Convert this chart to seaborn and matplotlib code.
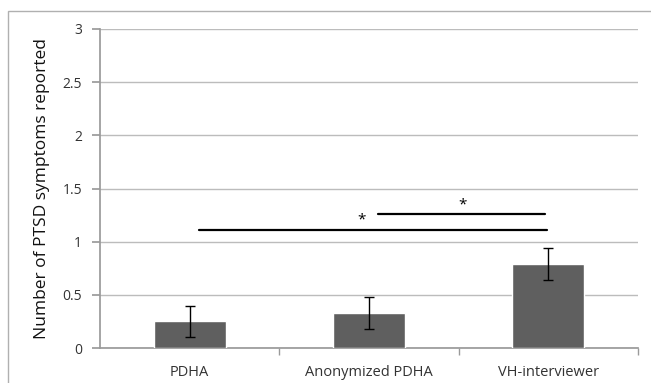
import matplotlib
matplotlib.use("Agg")
import matplotlib.pyplot as plt
import seaborn as sns
import pandas as pd
import numpy as np
from matplotlib.patches import Rectangle

categories = ["PDHA", "Anonymized PDHA", "VH-interviewer"]
means = [0.25, 0.33, 0.79]
errors = [0.145, 0.15, 0.155]
yticks = [0, 0.5, 1, 1.5, 2, 2.5, 3]
ytick_labels = ["0", "0.5", "1", "1.5", "2", "2.5", "3"]
ylabel = "Number of PTSD symptoms reported"

sns.set_theme(style="white")
plt.rcParams['font.family'] = ['Open Sans', 'DejaVu Sans']

fig = plt.figure(figsize=(6.51, 3.83), dpi=100)
fig.patches.append(Rectangle((8/651, -0.05), 1.2, 1 - 11/383 + 0.05, transform=fig.transFigure,
                             fill=False, edgecolor="#b0b0b0", linewidth=1.0))
ax = fig.add_axes([100/651, 1 - 348/383, 538/651, 319/383])

df = pd.DataFrame({"cat": categories, "val": means})
sns.barplot(data=df, x="cat", y="val", color="#5f5f5f", width=0.4, errorbar=None,
            saturation=1, ax=ax, zorder=3)
ax.errorbar(x=np.arange(len(categories)), y=means, yerr=errors, fmt="none",
            ecolor="black", elinewidth=1.0, capsize=3.5, capthick=1.0, zorder=4)

ax.set_ylim(0, 3)
ax.set_xlim(-0.5, 2.5)
ax.set_yticks(yticks)
ax.set_yticklabels(ytick_labels)
ax.yaxis.grid(True, color="#bcbcbc", linewidth=1.0)
ax.set_axisbelow(True)
for s in ["top", "right"]:
    ax.spines[s].set_visible(False)
ax.spines["left"].set_color("#9a9a9a")
ax.spines["bottom"].set_color("#9a9a9a")
ax.tick_params(axis="y", which="major", length=6, color="#9a9a9a", labelsize=10,
               labelcolor="#333333", pad=7, left=True)
ax.tick_params(axis="x", which="major", length=0, labelsize=10.5, labelcolor="#333333", pad=12)
ax.set_xticks([0.5, 1.5, 2.5], minor=True)
ax.tick_params(axis="x", which="minor", length=5, color="#9a9a9a", bottom=True)
ax.set_xlabel("")
ax.set_ylabel(ylabel, fontsize=12.5, color="#111111", labelpad=9)

# significance markers
ax.plot([0.05, 1.99], [1.11, 1.11], color="black", linewidth=1.6, zorder=5)
ax.plot([1.05, 1.98], [1.26, 1.26], color="black", linewidth=1.6, zorder=5)
ax.text(0.96, 1.20, "*", ha="center", va="center", fontsize=11, color="black")
ax.text(1.52, 1.345, "*", ha="center", va="center", fontsize=11, color="black")

fig.savefig("out.png", dpi=100)
